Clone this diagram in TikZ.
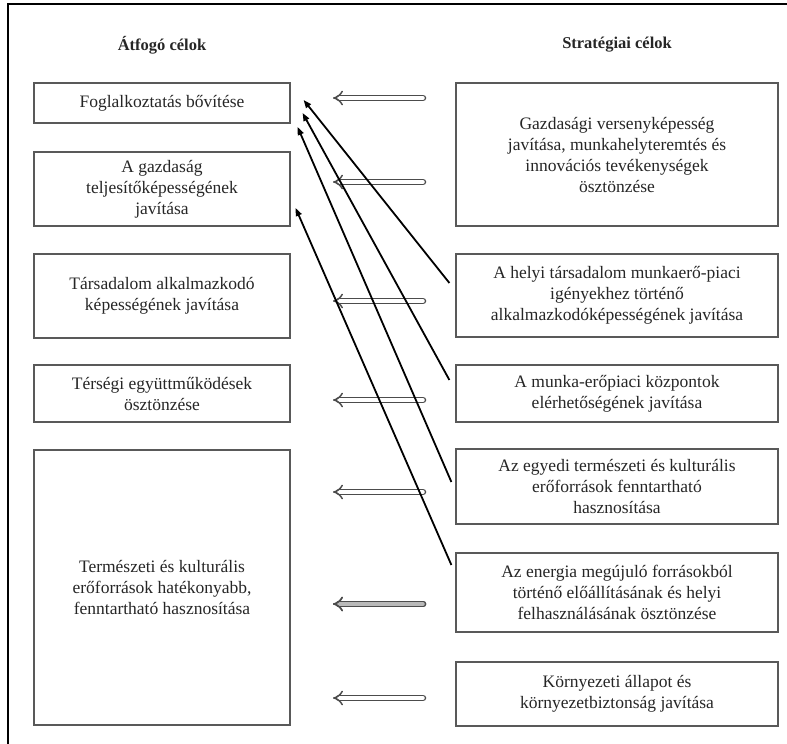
\documentclass[tikz,border=0pt]{standalone}
\usepackage{fontspec}
\setmainfont{Liberation Serif}
\usetikzlibrary{arrows.meta}

\begin{document}
\begin{tikzpicture}[
    x=1pt, y=-1pt,
    goal/.style={draw=gray!70!black, line width=1.2pt, align=center, inner sep=2pt,
        text=black!85, font=\fontsize{17.5}{21}\selectfont},
    leftgoal/.style={goal, minimum width=256pt},
    rightgoal/.style={goal, minimum width=322pt},
    heading/.style={font=\fontsize{16.5}{21}\selectfont\bfseries, text=black!85},
    hollow/.style={draw=gray!60!black, line width=1.5pt, double=white, double distance=3.5pt,
        line cap=round, -{Implies}},
    link/.style={line width=1.8pt, -{Triangle[length=8pt, width=6pt]}}
]
    \useasboundingbox (0,0) rectangle (787,744);
    \draw[line width=2pt] (8,744) -- (8,4) -- (787,4);

    \node[heading] (H1) at (162,45) {Átfogó célok};
    \node[heading] (H2) at (617,45) {Stratégiai célok};

    \node[leftgoal, minimum height=40pt] (L1) at (162,103) {Foglalkoztatás bővítése};
    \node[leftgoal, minimum height=74pt] (L2) at (162,189) {A gazdaság\\teljesítőképességének\\javítása};
    \node[leftgoal, minimum height=84pt] (L3) at (162,296) {Társadalom alkalmazkodó\\képességének javítása};
    \node[leftgoal, minimum height=57pt] (L4) at (162,393.5) {Térségi együttműködések\\ösztönzése};
    \node[leftgoal, minimum height=275pt] (L5) at (162,587.5) {Természeti és kulturális\\erőforrások hatékonyabb,\\fenntartható hasznosítása};

    \node[rightgoal, minimum height=143pt] (R1) at (617,154.5) {Gazdasági versenyképesség\\javítása, munkahelyteremtés és\\innovációs tevékenységek\\ösztönzése};
    \node[rightgoal, minimum height=83pt] (R2) at (617,295.5) {A helyi társadalom munkaerő-piaci\\igényekhez történő\\alkalmazkodóképességének javítása};
    \node[rightgoal, minimum height=57pt] (R3) at (617,393.5) {A munka-erőpiaci központok\\elérhetőségének javítása};
    \node[rightgoal, minimum height=75pt] (R4) at (617,486.5) {Az egyedi természeti és kulturális\\erőforrások fenntartható\\hasznosítása};
    \node[rightgoal, minimum height=79pt] (R5) at (617,592.5) {Az energia megújuló forrásokból\\történő előállításának és helyi\\felhasználásának ösztönzése};
    \node[rightgoal, minimum height=64pt] (R6) at (617,694) {Környezeti állapot és\\környezetbiztonság javítása};

    \foreach \y [count=\i] in {98,182,301,400,492,604,698} {
        \coordinate (S\i) at (423,\y);
        \coordinate (E\i) at (333,\y);
        \draw[hollow] (S\i) -- (E\i);
    }
    \draw[hollow, double=gray!55] (S6) -- (E6);

    \draw[link] ([xshift=-6pt, yshift=12.5pt]R2.west) -- ([xshift=13pt, yshift=3pt]L1.east);
    \draw[link] ([xshift=-6pt, yshift=13.5pt]R3.west) -- ([xshift=12pt, yshift=-10pt]L1.east);
    \draw[link] ([xshift=-4pt, yshift=4.5pt]R4.west) -- ([xshift=7pt, yshift=-24pt]L1.east);
    \draw[link] ([xshift=-4pt, yshift=27.5pt]R5.west) -- ([xshift=5pt, yshift=-19pt]L2.east);
\end{tikzpicture}
\end{document}
